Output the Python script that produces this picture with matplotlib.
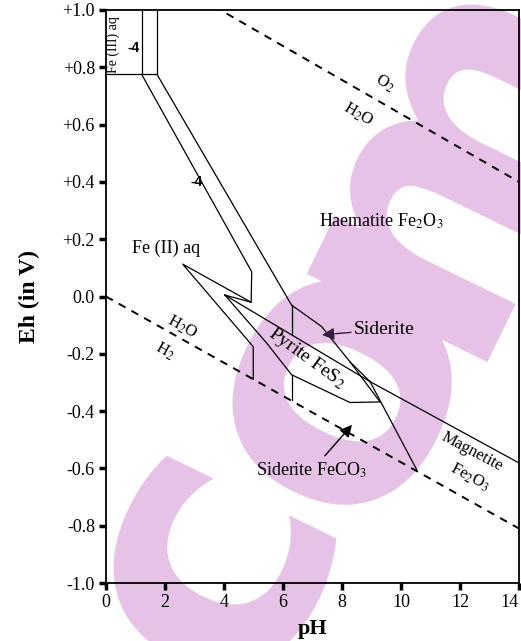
import matplotlib
matplotlib.use("Agg")
import matplotlib.pyplot as plt

plt.rcParams['font.family'] = ['Liberation Serif', 'DejaVu Serif']
plt.rcParams['mathtext.fontset'] = 'stix'

# ---- data (pH, Eh) ----
o2_ph = [0, 14]
o2_eh = [1.23, 0.40]
h2_ph = [0, 14]
h2_eh = [0.0, -0.81]

fe3_left_ph = [1.21, 1.21]
fe3_left_eh = [1.0, 0.775]
fe3_right_ph = [1.73, 1.73]
fe3_right_eh = [1.0, 0.775]
fe3_base_ph = [0.0, 1.73]
fe3_base_eh = [0.775, 0.775]

inner_fe2_ph = [1.21, 4.94, 4.92, 4.03]
inner_fe2_eh = [0.775, 0.086, -0.02, 0.005]

outer_tip_ph = [4.92, 2.60, 4.99, 4.99]
outer_tip_eh = [-0.02, 0.113, -0.175, -0.289]

outer_fe2_ph = [1.73, 6.29, 7.31, 8.27, 8.95]
outer_fe2_eh = [0.775, -0.03, -0.105, -0.228, -0.297]

pyr_upper_ph = [4.03, 8.95]
pyr_upper_eh = [0.005, -0.297]
pyr_lower_ph = [4.03, 5.45, 6.29, 8.27, 9.29]
pyr_lower_eh = [0.005, -0.163, -0.273, -0.37, -0.368]

sid_inner_ph = [8.27, 9.29]
sid_inner_eh = [-0.228, -0.368]

vert1_ph = [6.29, 6.29]
vert1_eh = [-0.03, -0.13]
vert2_ph = [6.29, 6.29]
vert2_eh = [-0.273, -0.362]

hem_mag_ph = [8.95, 14.0]
hem_mag_eh = [-0.297, -0.581]
sid_mag_ph = [8.95, 10.53]
sid_mag_eh = [-0.297, -0.604]

xticks = [0, 2, 4, 6, 8, 10, 12, 14]
yticks = [1.0, 0.8, 0.6, 0.4, 0.2, 0.0, -0.2, -0.4, -0.6, -0.8, -1.0]
ytick_labels = ['+1.0', '+0.8', '+0.6', '+0.4', '+0.2', '0.0', '-0.2', '-0.4', '-0.6', '-0.8', '-1.0']

W, H = 521, 641
fig = plt.figure(figsize=(W/100, H/100), dpi=100)
ax = fig.add_axes([106/W, 1-583/H, 413/W, 573/H])
ax.set_xlim(0, 14)
ax.set_ylim(-1.0, 0.995)

# watermark letters (pixel centres -> figure fraction)
for ch, (px, py) in [('c', (205, 558)), ('o', (333, 378)), ('m', (450, 145))]:
    ax.text(px/W, 1-py/H, ch, transform=fig.transFigure, fontsize=265, rotation=64,
            color='#E6C3E6', family='DejaVu Sans', weight='bold', ha='center', va='center',
            zorder=0.5, clip_on=False)

lw = 0.9
for xs, ys in [(fe3_left_ph, fe3_left_eh), (fe3_right_ph, fe3_right_eh), (fe3_base_ph, fe3_base_eh),
               (inner_fe2_ph, inner_fe2_eh), (outer_tip_ph, outer_tip_eh), (outer_fe2_ph, outer_fe2_eh),
               (pyr_upper_ph, pyr_upper_eh), (pyr_lower_ph, pyr_lower_eh), (sid_inner_ph, sid_inner_eh),
               (vert1_ph, vert1_eh), (vert2_ph, vert2_eh), (hem_mag_ph, hem_mag_eh), (sid_mag_ph, sid_mag_eh)]:
    ax.plot(xs, ys, color='black', lw=lw, zorder=2)

ax.plot(o2_ph, o2_eh, color='black', lw=1.4, ls=(0, (4, 3.5)), zorder=2)
ax.plot(h2_ph, h2_eh, color='black', lw=1.4, ls=(0, (4, 3.5)), zorder=2)

# labels
ax.text(0.24, 0.88, 'Fe (III) aq', rotation=90, fontsize=10, ha='center', va='center')
ax.text(0.92, 0.866, '-4', fontsize=10, family='Liberation Sans', weight='bold', ha='center', va='center')
ax.text(3.08, 0.399, '-4', fontsize=10, family='Liberation Sans', weight='bold', ha='center', va='center')
ax.text(9.46, 0.744, r'O$_2$', rotation=-30, fontsize=12, ha='center', va='center')
ax.text(8.54, 0.635, r'H$_2$O', rotation=-30, fontsize=12, ha='center', va='center')
ax.text(9.32, 0.263, r'Haematite Fe$_2$O$_3$', fontsize=13, ha='center', va='center')
ax.text(2.03, 0.169, 'Fe (II) aq', fontsize=13, ha='center', va='center')
ax.text(2.58, -0.106, r'H$_2$O', rotation=-29, fontsize=12, ha='center', va='center')
ax.text(2.0, -0.19, r'H$_2$', rotation=-29, fontsize=12, ha='center', va='center')
ax.text(6.81, -0.214, r'Pyrite FeS$_2$', rotation=-36, fontsize=14, ha='center', va='center')
ax.annotate('Siderite', xy=(7.32, -0.134), xytext=(8.4, -0.115), fontsize=14, ha='left', va='center',
            arrowprops=dict(arrowstyle='-|>', color='#3a1a40', lw=1.0, mutation_scale=18,
                            shrinkA=0, shrinkB=0))
ax.annotate('', xy=(8.34, -0.448), xytext=(7.42, -0.556),
            arrowprops=dict(arrowstyle='-|>', color='black', lw=1.0, mutation_scale=18,
                            shrinkA=0, shrinkB=0))
ax.text(6.98, -0.605, r'Siderite FeCO$_3$', fontsize=13, ha='center', va='center')
ax.text(12.41, -0.542, 'Magnetite', rotation=-28, fontsize=12, ha='center', va='center')
ax.text(12.34, -0.633, r'Fe$_2$O$_3$', rotation=-28, fontsize=12, ha='center', va='center')

ax.set_xticks(xticks)
ax.set_xticklabels([str(t) for t in xticks])
ax.set_yticks(yticks)
ax.set_yticklabels(ytick_labels)
ax.tick_params(direction='out', length=5, width=2.5, labelsize=13, pad=3)
ax.get_xticklabels()[-1].set_ha('right')
for s in ax.spines.values():
    s.set_linewidth(1.3)
ax.set_ylabel('Eh (in V)', fontsize=17, weight='bold', labelpad=16)
ax.set_xlabel('pH', fontsize=16, weight='bold', labelpad=6)

fig.savefig('out.png', dpi=100)
